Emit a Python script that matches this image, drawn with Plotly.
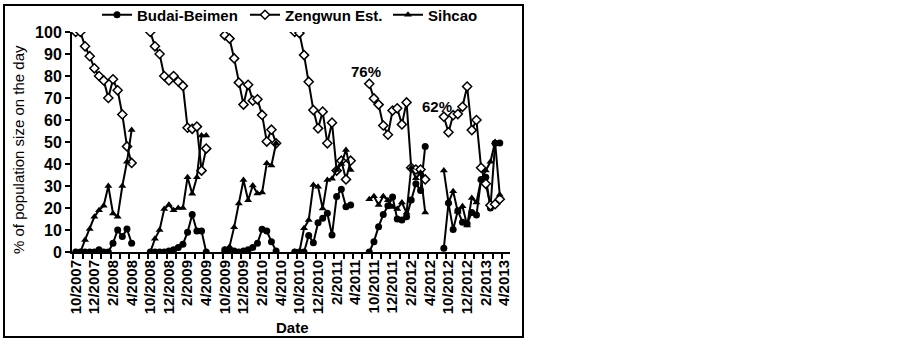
import plotly.graph_objects as go

# category index where each season's sampling starts (one category ~ half month)
season_start = [0, 16, 32, 47, 63, 79]

budai = [
    [0, 0, 0, 0, 0, 1, 0, 0, 4, 10, 7, 10.5, 4],
    [0, 0, 0, 0, 0.5, 1, 2, 3.5, 9, 17, 9.5, 9.5, 0],
    [1, 1, 0.5, 0, 0.5, 1, 2, 4, 10.3, 9.5, 4.7, 0.5],
    [0, 0, 0, 7.5, 4.2, 13.3, 15.3, 17.6, 7.7, 25.2, 28.5, 20.6, 21.4],
    [0, 4.7, 11.5, 17, 21, 25, 15, 14.5, 16, 23.6, 31, 28, 48],
    [1.7, 22.3, 10.2, 18.8, 13.5, 12.8, 18, 16.8, 33, 34, 20, 49.4, 49.5],
]
zengwun = [
    [100, 100, 93.5, 89, 83.5, 80, 78, 70, 78.5, 73.5, 62.5, 48, 40.5],
    [100, 93.5, 90, 80, 78, 80, 77.5, 75.5, 56.5, 56, 57, 37, 47],
    [98.5, 97, 88, 77, 67, 76, 68.8, 69.4, 62.3, 50.2, 55.6, 49.4],
    [100, 99.5, 89.5, 77.4, 64.5, 56.2, 63.8, 49.4, 58.8, 37, 41.5, 33, 41.5],
    [76.5, 69.8, 67, 57.5, 53.3, 64.3, 65.3, 58, 68, 38.3, 37.5, 37.5, 33],
    [61.5, 54.4, 62.2, 62.7, 66, 75.2, 55.4, 60, 38.3, 31, 21.2, 21.7, 24],
]
sihcao = [
    [0, 0, 5.5, 10.5, 16, 19, 21, 30, 17.5, 16, 30, 41, 55.5],
    [0, 6, 10, 19.5, 21.5, 19, 20, 20, 34, 26.5, 34, 53, 53],
    [1, 2.4, 11.3, 22, 32.7, 23.5, 30.2, 26.6, 27, 40.3, 39.3, 49.4],
    [0, 0, 10.8, 14.5, 30.5, 29.7, 19.8, 32.7, 33.3, 37.3, 40, 46.4, 37.3],
    [24, 25.3, 21.4, 25.3, 23.5, 20.5, 19.5, 22.5, 17.8, 38.3, 33.5, 36, 18],
    [37, 22.5, 27.6, 18.3, 20.8, 12, 24.6, 22.5, 33, 37, 41, 50, 26],
]

tick_labels = ["10/2007", "12/2007", "2/2008", "4/2008",
               "10/2008", "12/2008", "2/2009", "4/2009",
               "10/2009", "12/2009", "2/2010", "4/2010",
               "10/2010", "12/2010", "2/2011", "4/2011",
               "10/2011", "12/2011", "2/2012", "4/2012",
               "10/2012", "12/2012", "2/2013", "4/2013"]
tick_pos = [4 * i for i in range(len(tick_labels))]
n_categories = 94

peak_notes = [("76%", 62.3, 82), ("62%", 77.6, 66)]


def flatten(series):
    xs, ys = [], []
    for start, vals in zip(season_start, series):
        xs += [start + i for i in range(len(vals))] + [None]
        ys += list(vals) + [None]
    return xs, ys


FONT = "Liberation Sans, Arial, sans-serif"
L, R, T, B = 72, 392, 32, 88
PW, PH = 902 - L - R, 340 - T - B


def px_x(p):
    return (p - L) / PW


def px_y(p):
    return (340 - B - p) / PH


fig = go.Figure()

specs = [
    ("Budai-Beimen", budai, dict(symbol="circle", size=7, color="black"), "legend", 97),
    ("Zengwun Est.", zengwun, dict(symbol="diamond", size=7, color="white",
                                   line=dict(color="black", width=1.5)), "legend2", 245),
    ("Sihcao", sihcao, dict(symbol="triangle-up", size=7, color="black"), "legend3", 388),
]
legend_cfg = {}
for name, data, marker, lg, lx in specs:
    xs, ys = flatten(data)
    fig.add_trace(go.Scatter(x=xs, y=ys, name=name, mode="lines+markers",
                             line=dict(color="black", width=2),
                             marker=marker, connectgaps=False, legend=lg))
    legend_cfg[lg] = dict(x=px_x(lx), xanchor="left", y=px_y(15), yanchor="middle",
                          orientation="h",
                          font=dict(family=FONT, size=15, color="black", weight="bold"),
                          bgcolor="rgba(0,0,0,0)", borderwidth=0)

for txt, xv, yv in peak_notes:
    fig.add_annotation(x=xv, y=yv, text=txt, showarrow=False,
                       xanchor="center", yanchor="middle",
                       font=dict(family=FONT, size=15, color="black", weight="bold"))

fig.add_shape(type="rect", xref="paper", yref="paper",
              x0=px_x(4), x1=px_x(523), y0=px_y(337), y1=px_y(5),
              line=dict(color="black", width=2))

fig.add_annotation(xref="paper", yref="paper", x=px_x(18), y=px_y(150),
                   text="% of population size on the day", textangle=-90,
                   showarrow=False, xanchor="center", yanchor="middle",
                   font=dict(family=FONT, size=15, color="black"))
fig.add_annotation(xref="paper", yref="paper", x=px_x(292), y=px_y(327),
                   text="Date", showarrow=False, xanchor="center", yanchor="middle",
                   font=dict(family=FONT, size=15, color="black", weight="bold"))

fig.update_layout(
    width=902, height=340,
    margin=dict(l=L, r=R, t=T, b=B, autoexpand=False),
    paper_bgcolor="white", plot_bgcolor="white",
    showlegend=True,
    font=dict(family=FONT, color="black"),
    **legend_cfg,
)
fig.update_xaxes(range=[-0.8, n_categories - 0.8], showgrid=False, zeroline=False,
                 showline=True, linecolor="black", linewidth=2,
                 tickmode="array", tickvals=tick_pos, ticktext=tick_labels,
                 tickangle=-90, ticks="", automargin=False,
                 tickfont=dict(family=FONT, size=15, color="black", weight="bold"),
                 minor=dict(tickmode="array",
                            tickvals=[2 * k - 0.5 for k in range(n_categories // 2 + 1)],
                            ticks="outside", ticklen=5, tickcolor="black", tickwidth=1.5))
fig.update_yaxes(range=[0, 100], dtick=10, showgrid=False, zeroline=False,
                 showline=True, linecolor="black", linewidth=2, automargin=False,
                 ticks="outside", ticklen=5, tickcolor="black", tickwidth=1.5,
                 tickfont=dict(family=FONT, size=16, color="black", weight="bold"))

fig.write_html("out.html", config={"displayModeBar": False},
               post_script="document.body.style.margin='0';document.body.style.overflow='hidden';")
